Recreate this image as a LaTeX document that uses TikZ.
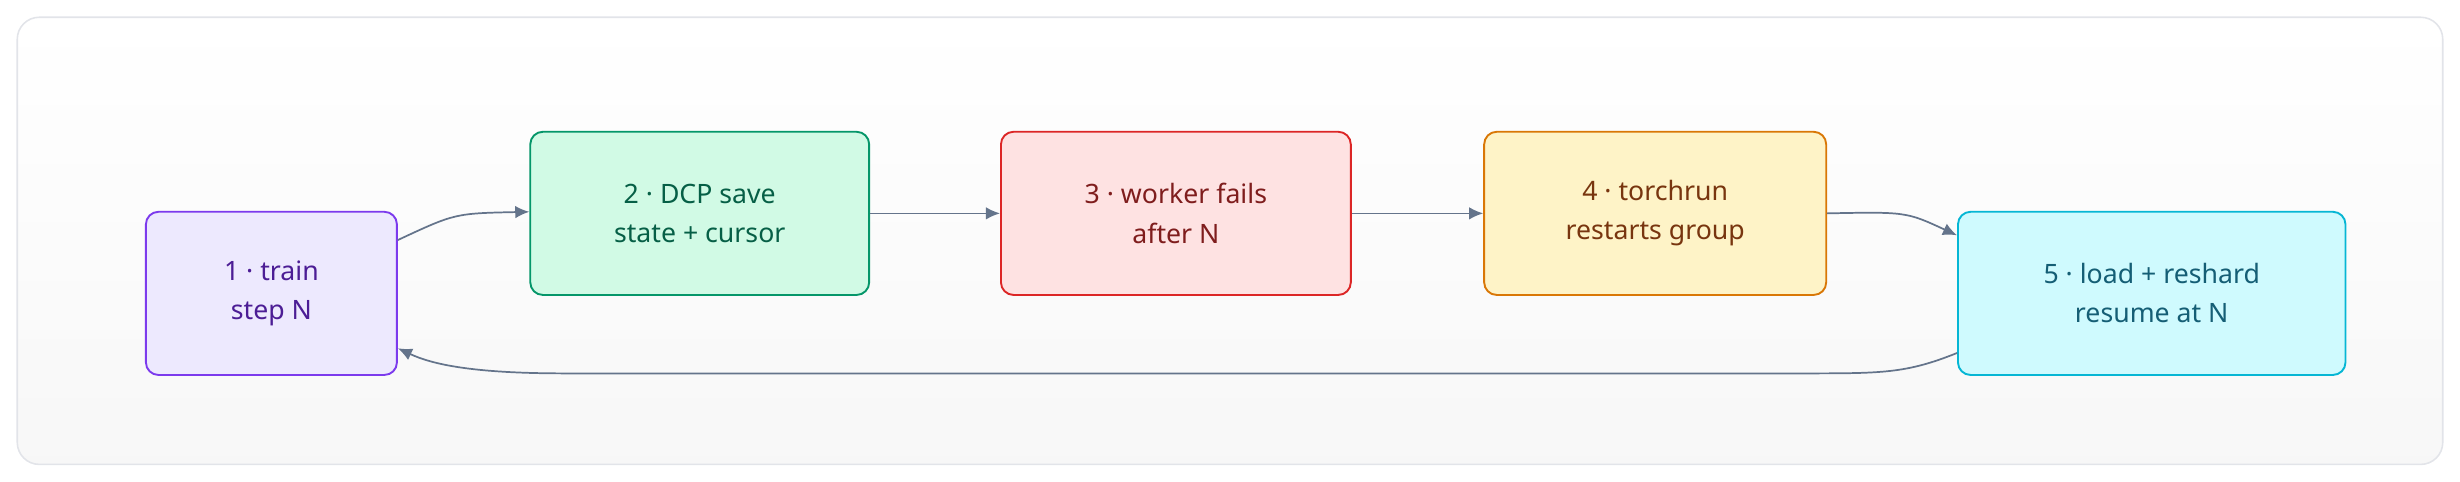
\documentclass[tikz,border=0pt]{standalone}
\usepackage{fontspec}
\setmainfont{Noto Sans}
\usetikzlibrary{arrows.meta}
\definecolor{frame}{HTML}{E2E4E9}
\definecolor{edge}{HTML}{64748B}
\definecolor{f1}{HTML}{EDE9FE}\definecolor{d1}{HTML}{7C3AED}\definecolor{t1}{HTML}{4C1D95}
\definecolor{f2}{HTML}{D1FAE5}\definecolor{d2}{HTML}{059669}\definecolor{t2}{HTML}{065F46}
\definecolor{f3}{HTML}{FEE2E2}\definecolor{d3}{HTML}{DC2626}\definecolor{t3}{HTML}{7F1D1D}
\definecolor{f4}{HTML}{FEF3C7}\definecolor{d4}{HTML}{D97706}\definecolor{t4}{HTML}{78350F}
\definecolor{f5}{HTML}{CFFAFE}\definecolor{d5}{HTML}{06B6D4}\definecolor{t5}{HTML}{155E75}
\begin{document}
\begin{tikzpicture}[x=1pt,y=-1pt,
 box/.style={draw,rounded corners=8pt,line width=1.2pt,minimum height=104pt,align=center,font=\fontsize{17}{25}\selectfont},
 link/.style={draw=edge,line width=1.1pt,-{Latex[length=9pt,width=8pt]}}]
\useasboundingbox (0,0) rectangle (1568,307);
\shade[top color=white,bottom color=gray!6,rounded corners=14pt,draw=frame,line width=1pt] (11,11) rectangle (1557,296);
\node[box,minimum width=160pt,fill=f1,draw=d1,text=t1] (n1) at (173,187) {1 · train\\step N};
\node[box,minimum width=216pt,fill=f2,draw=d2,text=t2] (n2) at (446,136) {2 · DCP save\\state + cursor};
\node[box,minimum width=223pt,fill=f3,draw=d3,text=t3] (n3) at (749.5,136) {3 · worker fails\\after N};
\node[box,minimum width=218pt,fill=f4,draw=d4,text=t4] (n4) at (1055,136) {4 · torchrun\\restarts group};
\node[box,minimum width=247pt,fill=f5,draw=d5,text=t5] (n5) at (1371.5,187) {5 · load + reshard\\resume at N};
\path[link] (n1.east|-0,153) .. controls (290,136) .. (n2.west|-0,135);
\path[link] (n2.east) -- (n3.west);
\path[link] (n3.east) -- (n4.west);
\path[link] (n4.east) .. controls (1215,135) .. (n5.west|-0,150);
\path[link] (n5.west|-0,225) .. controls (1215,238) and (1200,238) .. (1150,238) -- (360,238) .. controls (300,238) and (275,232) .. (n1.east|-0,222);
\end{tikzpicture}
\end{document}
